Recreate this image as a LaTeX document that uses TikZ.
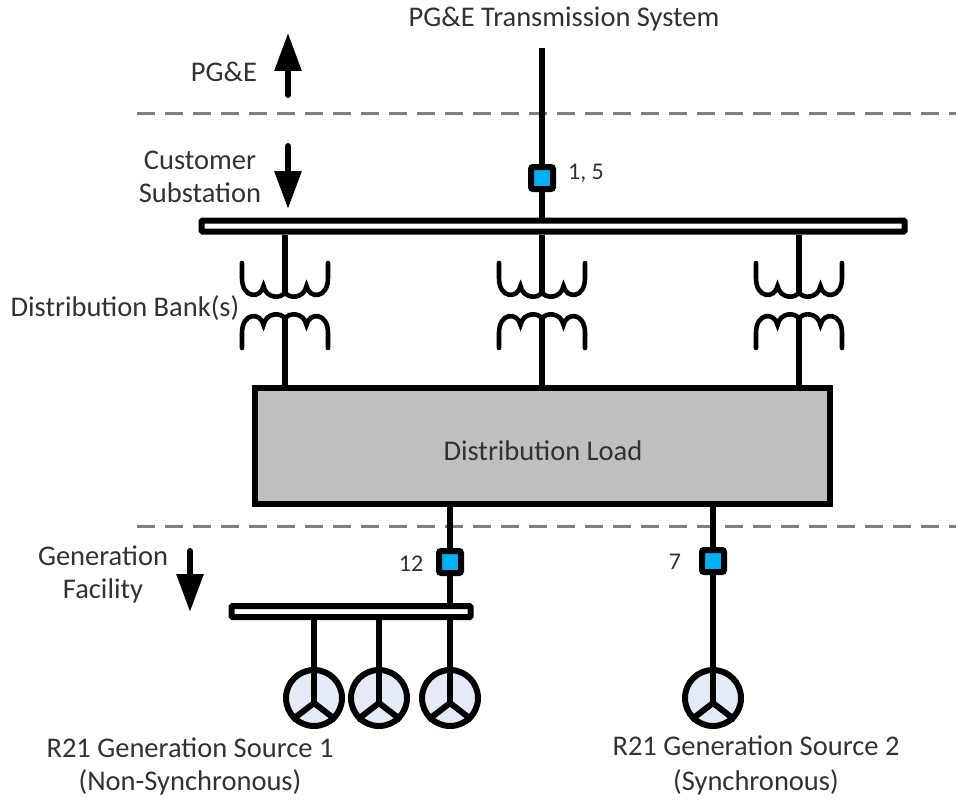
\documentclass[tikz,border=0pt]{standalone}
\usepackage{fontspec}
\setmainfont{Carlito}
\usetikzlibrary{arrows.meta}
\definecolor{breakerblue}{RGB}{0,176,240}
\definecolor{loadgray}{RGB}{191,191,191}
\definecolor{genblue}{RGB}{228,235,247}
\definecolor{labeltext}{RGB}{50,50,50}
\tikzset{
	wire/.style={line width=6pt},
	coil/.pic={
		\draw[line width=4.6pt, line cap=round] (-43,-32) -- (-43,-17)
			.. controls (-43,4) and (-24,4) .. (-21.5,-9)
			.. controls (-19,4) and (-3,4) .. (0,-3)
			.. controls (3,4) and (19,4) .. (21.5,-9)
			.. controls (24,4) and (43,4) .. (43,-17) -- (43,-32);
	},
	label text/.style={text=labeltext, font=\fontsize{28.5}{28.5}\selectfont, inner sep=0pt},
	small text/.style={text=labeltext, font=\fontsize{24}{24}\selectfont, inner sep=0pt},
	bus/.style={draw, wire, fill=white, rounded corners=1pt, minimum height=11pt, inner sep=0pt},
	breaker/.style={draw, wire, fill=breakerblue, rounded corners=2pt, minimum size=22pt, inner sep=0pt},
	gen/.style={circle, draw, wire, fill=genblue, minimum size=56pt, inner sep=0pt},
	boundary/.style={draw=gray, line width=3pt, dash pattern=on 18pt off 10pt},
	side arrow/.style={wire, line cap=round, -{Triangle[length=38pt,width=26pt]}}
}
\begin{document}
\begin{tikzpicture}[x=1pt,y=-1pt]
		\useasboundingbox (0,0) rectangle (956,800);
		% zones
		\coordinate (DL) at (137,113);
		\coordinate (DR) at (956,113);
		\coordinate (EL) at (137,526);
		\coordinate (ER) at (956,526);
		\path[boundary] (DL) -- (DR);
		\path[boundary] (EL) -- (ER);
		% buses and load
		\node[bus, minimum width=703pt] (B1) at (553,226) {};
		\node[bus, minimum width=239pt] (B2) at (351,611.5) {};
		\node[draw, wire, fill=loadgray, minimum width=575pt, minimum height=116pt, inner sep=0pt] (L) at (542.5,446) {};
		\node[label text] at (543,451) {Distribution Load};
		% breakers
		\node[breaker] (K1) at (542,178) {};
		\node[breaker] (K2) at (450,562) {};
		\node[breaker] (K3) at (713,561) {};
		% generators
		\foreach \name/\xpos in {G1/314, G2/379, G3/450, G4/713} {
			\node[gen] (\name) at (\xpos,698) {};
			\coordinate (\name j) at (\xpos,703);
			\draw[wire] (\name j) -- (\name.90);
			\draw[wire] (\name j) -- (\name.225);
			\draw[wire] (\name j) -- (\name.315);
		}
		% banks
		\foreach \name/\xpos in {T1/285, T2/542, T3/799} {
			\pic at (\xpos,295) {coil};
			\pic[yscale=-1] at (\xpos,316) {coil};
			\coordinate (\name a) at (\xpos,296);
			\coordinate (\name b) at (\xpos,316);
			\draw[wire] (B1.south -| \name a) -- (\name a);
			\draw[wire] (\name b) -- (L.north -| \name b);
		}
		% connections
		\coordinate (Top) at (542,48);
		\begin{scope}[every path/.style={wire}]
			\draw (Top) -- (K1);
			\draw (K1) -- (B1.north -| K1);
			\draw (L.south -| K2) -- (K2);
			\draw (K2) -- (B2.north -| K2);
			\draw (L.south -| K3) -- (K3);
			\draw (K3) -- (G4);
			\draw (B2.south -| G1) -- (G1);
			\draw (B2.south -| G2) -- (G2);
			\draw (B2.south -| G3) -- (G3);
		\end{scope}
		% arrows
		\coordinate (A1) at (288,95);
		\coordinate (A2) at (288,33);
		\coordinate (A3) at (288,146);
		\coordinate (A4) at (288,209);
		\coordinate (A5) at (190,551);
		\coordinate (A6) at (190,612);
		\draw[side arrow] (A1) -- (A2);
		\draw[side arrow] (A3) -- (A4);
		\draw[side arrow] (A5) -- (A6);
		% labels
		\begin{scope}[every node/.style={label text}]
			\node (N1) at (564,19) {PG\&E Transmission System};
			\node (N2) at (224,72) {PG\&E};
			\node (N3) at (200,160) {Customer};
			\node (N4) at (200,193) {Substation};
			\node (N5) at (125,308) {Distribution Bank(s)};
			\node (N6) at (103,556) {Generation};
			\node (N7) at (103,591) {Facility};
			\node (N8) at (190,748) {R21 Generation Source 1};
			\node (N9) at (190,782) {(Non-Synchronous)};
			\node (N10) at (756,746) {R21 Generation Source 2};
			\node (N11) at (756,782) {(Synchronous)};
		\end{scope}
		\begin{scope}[every node/.style={small text}]
			\node (N12) at (586,173) {1, 5};
			\node (N13) at (411,564) {12};
			\node (N14) at (675,562) {7};
		\end{scope}
	\end{tikzpicture}
\end{document}
